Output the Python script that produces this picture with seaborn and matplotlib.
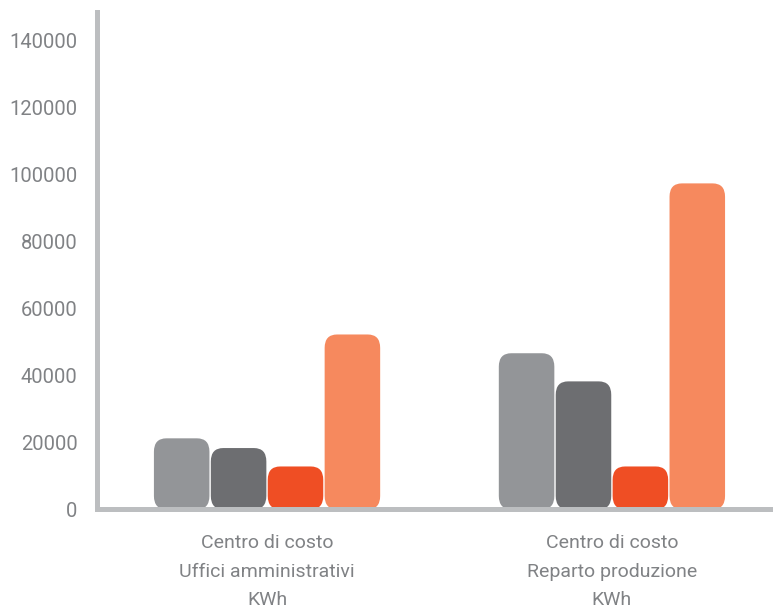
import matplotlib
matplotlib.use("Agg")
import matplotlib.pyplot as plt
import seaborn as sns
import pandas as pd
from matplotlib.patches import FancyBboxPatch

categories = ["Centro di costo\nUffici amministrativi\nKWh",
              "Centro di costo\nReparto produzione\nKWh"]
series = ["A", "B", "C", "D"]
values_uffici = [21200, 18300, 12800, 52200]
values_reparto = [46600, 38200, 12800, 97300]
colors = ["#939598", "#6d6e71", "#ef4e24", "#f6895e"]
yticks = [0, 20000, 40000, 60000, 80000, 100000, 120000, 140000]

rows = []
for s, v in zip(series, values_uffici):
    rows.append({"cat": categories[0], "serie": s, "val": v})
for s, v in zip(series, values_reparto):
    rows.append({"cat": categories[1], "serie": s, "val": v})
df = pd.DataFrame(rows)

sns.set_theme(style="white")
plt.rcParams['font.family'] = ['Roboto', 'DejaVu Sans']

fig = plt.figure(figsize=(7.73, 6.10), dpi=100)
ax = fig.add_axes([0.1255, 0.165, 0.8745, 0.815])

sns.barplot(data=df, x="cat", y="val", hue="serie", palette=colors,
            width=0.66, legend=False, ax=ax, saturation=1)

ax.set_xlim(-0.493, 1.467)
ax.set_ylim(0, 148400)

# round the bars
rx = 0.036
ry = 4000
for p in list(ax.patches):
    x, y = p.get_x(), p.get_y()
    w, h = p.get_width(), p.get_height()
    fc = p.get_facecolor()
    p.remove()
    fb = FancyBboxPatch((x + 0.002, y), w - 0.004, h,
                        boxstyle=f"round,pad=0,rounding_size={rx}",
                        mutation_aspect=ry / rx, facecolor=fc,
                        edgecolor="none", zorder=2)
    ax.add_patch(fb)

ax.set_yticks(yticks)
ax.set_yticklabels([str(t) for t in yticks])
ax.set_xlabel("")
ax.set_ylabel("")

for side in ["top", "right"]:
    ax.spines[side].set_visible(False)
for side in ["left", "bottom"]:
    ax.spines[side].set_color("#bcbec0")
    ax.spines[side].set_linewidth(3.6)
    ax.spines[side].set_zorder(3)

ax.tick_params(axis="y", length=0, pad=14, labelsize=14.5, labelcolor="#808285")
ax.tick_params(axis="x", length=0, pad=18, labelsize=14, labelcolor="#808285")
for lbl in ax.get_xticklabels():
    lbl.set_linespacing(1.75)

fig.savefig("out.png", dpi=100)
